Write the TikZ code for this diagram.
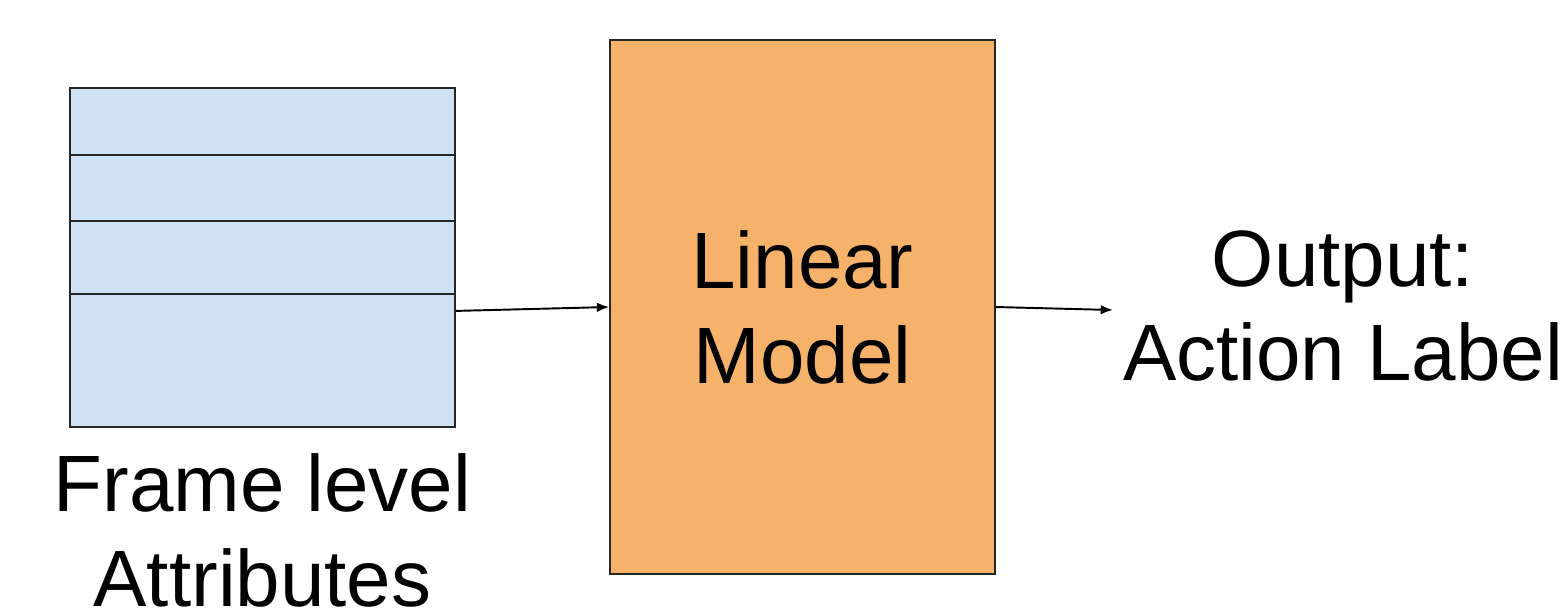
\documentclass[tikz,border=0pt]{standalone}
\usepackage{fontspec}
\setmainfont{Liberation Sans}
\usetikzlibrary{positioning,arrows.meta}
\definecolor{attrblue}{HTML}{CFE2F3}
\definecolor{modelorange}{HTML}{F6B26B}
\tikzset{
    box/.style={draw=black!85,line width=1pt,inner sep=0pt},
    bigtext/.style={font=\fontsize{45.5}{54}\selectfont,align=center,inner sep=0pt},
    flow/.style={line width=1.1pt,-{Latex[length=7pt,width=5.5pt]}}
}
\begin{document}
\begin{tikzpicture}[x=0.02cm,y=-0.02cm]
        \useasboundingbox (0,0) rectangle (1567,610);
        %% frame attributes
        \node[box,fill=attrblue,minimum width=7.7cm,minimum height=6.78cm] (stack) at (262.5,257.5) {};
        \foreach \row in {155,221,294}
            \draw[black!85,line width=1pt] (stack.west |- 0,\row) -- (stack.east |- 0,\row);
        \node[bigtext,anchor=north] (attrs) at (262.5,453) {Frame level\\Attributes};
        %% model
        \node[box,fill=modelorange,minimum width=7.7cm,minimum height=10.68cm,bigtext] (model) at (802.5,307) {Linear\\Model};
        %% output
        \node[bigtext] (out) at (1343,306) {Output:\\Action Label};
        \coordinate (tip) at (1113,310);
        %% arrows
        \draw[flow] ([yshift=-30.4pt]stack.east) -- (model.west);
        \draw[flow] (model.east) -- (tip);
    \end{tikzpicture}
\end{document}
